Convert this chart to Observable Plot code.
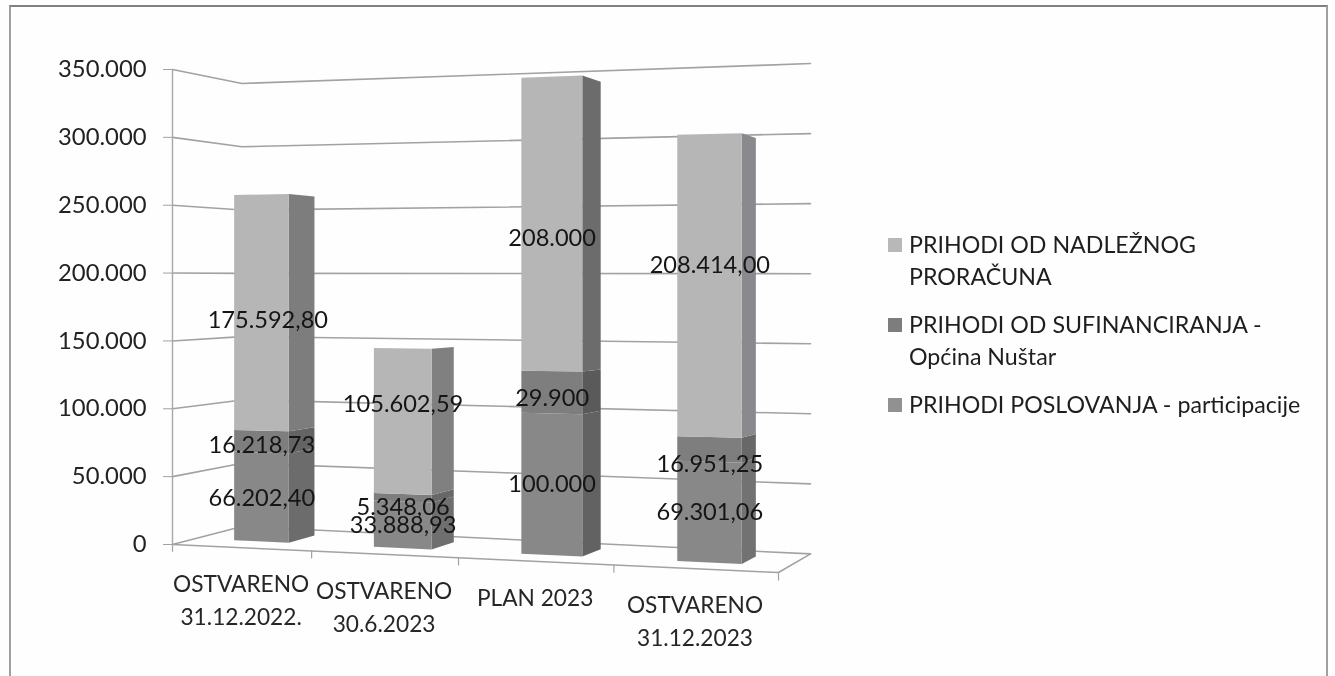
<!DOCTYPE html>
<html>
<head>
<meta charset="utf-8">
<script src="https://cdn.jsdelivr.net/npm/d3@7"></script>
<script src="https://cdn.jsdelivr.net/npm/@observablehq/plot@0.6"></script>
<style>
html,body{margin:0;padding:0;background:#fefefe;width:1335px;height:676px;overflow:hidden;position:relative}
#frame{position:absolute;left:9px;top:5px;width:1319px;height:720px;border:2px solid #a0a0a0;border-top-color:#808080;box-sizing:border-box;pointer-events:none}
#chart svg,#legend{filter:blur(0.4px)}
#legend{position:absolute;left:888px;top:228px;font-family:Lato,sans-serif;font-size:23.2px;line-height:32px;color:#1e1e1e}
#legend div{position:relative;padding-left:21px;margin-bottom:16px}
#legend i{position:absolute;left:0;top:10px;width:14px;height:14px}
</style>
</head>
<body>
<div id="frame"></div>
<div id="chart"></div>
<div id="legend"></div>
<script>
// ---- data ----
const categories = ["OSTVARENO\n31.12.2022.", "OSTVARENO\n30.6.2023", "PLAN 2023", "OSTVARENO\n31.12.2023"];
const participacije = [66202.40, 33888.93, 100000, 69301.06];
const sufinanciranje = [16218.73, 5348.06, 29900, 16951.25];
const proracun = [175592.80, 105602.59, 208000, 208414.00];
const decimals = [2, 2, 0, 2];
const legendNames = ["PRIHODI OD NADLEŽNOG\nPRORAČUNA", "PRIHODI OD SUFINANCIRANJA -\nOpćina Nuštar", "PRIHODI POSLOVANJA - participacije"];
const yTicks = [0, 50000, 100000, 150000, 200000, 250000, 300000, 350000];

// ---- styling ----
const font = "Lato, sans-serif";
const frontColors = ["#888888", "#7e7e7e", "#b6b6b6"];
const sideColors = [["#6c6c6c", "#646464", "#7d7d7d"], ["#6f6f6f", "#686868", "#808080"], ["#626262", "#5a5a5a", "#6c6c6c"], ["#727272", "#686868", "#8a8a8e"]];
const legendColors = ["#b8b8b8", "#7d7d7d", "#919191"];

// ---- 3D camera: (u along categories, d into depth, v value) -> plane of the x/y scales ----
function project(u, d, v) {
  const w = 1 - 0.106 * u + 0.072 * d;
  const wv = 1 - 0.0992 * u + 0.072 * d - 0.004 * u * d;
  return {x: (0.894 * u + 0.123 * d) / w, y: (-18470 * u + 14200 * d - 2400 * u * d) / w + v / wv};
}
const barCentre = i => 0.125 + i * 0.2515;
const halfBar = 0.05, dFront = 0.3, dBack = 0.7;

// ---- geometry built from the data ----
const stacks = [participacije, sufinanciranje, proracun];
const faces = [];
categories.forEach((_, i) => {
  let base = 0;
  stacks.forEach((s, k) => {
    const top = base + s[i], u0 = barCentre(i) - halfBar, u1 = barCentre(i) + halfBar;
    const edge = (id, fill, u, d) => {
      const a = project(u, d, base), b = project(u, d, top);
      faces.push({id, fill, x: a.x, y1: a.y, y2: b.y});
    };
    edge(`s${i}${k}`, sideColors[i][k], u1, dFront);
    edge(`s${i}${k}`, sideColors[i][k], u1, dBack);
    edge(`f${i}${k}`, frontColors[k], u0, dFront);
    edge(`f${i}${k}`, frontColors[k], u1, dFront);
    base = top;
  });
});

const grid = yTicks.flatMap(v => [[0, 0], [0, 1], [1, 1]].map(([u, d]) => ({id: v, ...project(u, d, v)})));
const floor = [[0, 0], [1, 0], [1, 1]].map(([u, d]) => ({id: "floor", ...project(u, d, 0)}));
const wall = [0, 350000].map(v => ({id: "wall", ...project(0, 0, v)}));
const catTicks = d3.range(5).flatMap(i => [0, -5000].map(v => ({id: "t" + i, ...project(i / 4, 0, v)})));

// label offset from the middle of each segment, in px, as seen in the picture
const labelShift = [[[0, 1], [0, 3], [6, 7]], [[0, 0], [0, 9], [0, -17]], [[0, 0], [0, 6], [0, 14]], [[0, 0], [0, 15], [0, -21]]];
const pxPerValue = 475 / 350000;
const pxPerU = 606;
const labels = [];
categories.forEach((_, i) => {
  let base = 0;
  stacks.forEach((s, k) => {
    const fmt = d3.formatLocale({decimal: ",", thousands: ".", grouping: [3], currency: ["", ""]}).format(`,.${decimals[i]}f`);
    const p = project(barCentre(i), dFront, base + s[i] / 2);
    const [dx, dy] = labelShift[i][k];
    labels.push({x: p.x + dx / pxPerU, y: p.y - dy / pxPerValue, text: fmt(s[i])});
    base += s[i];
  });
});
const catLabels = categories.map((text, i) => {
  const p = project((i + 0.5) / 4, 0, 0);
  return {text, x: p.x, y: p.y - 21 / pxPerValue};
});

const thousands = v => d3.format(",")(v).replace(/,/g, ".");

const chart = Plot.plot({
  width: 1335, height: 676,
  marginLeft: 172, marginRight: 557, marginTop: 69, marginBottom: 132,
  style: {background: "transparent", fontFamily: font, overflow: "visible"},
  x: {domain: [0, 1], axis: null},
  y: {domain: [0, 350000]},
  color: {type: "identity"},
  marks: [
    Plot.line(grid, {x: "x", y: "y", z: "id", stroke: "#a2a2a2", strokeWidth: 1.6}),
    Plot.line(wall, {x: "x", y: "y", z: "id", stroke: "#a8a8a8", strokeWidth: 1.4}),
    Plot.line(floor, {x: "x", y: "y", z: "id", stroke: "#a2a2a2", strokeWidth: 1.6}),
    Plot.line(catTicks, {x: "x", y: "y", z: "id", stroke: "#a2a2a2", strokeWidth: 1.2}),
    Plot.axisY({ticks: yTicks, tickFormat: thousands, tickSize: 9, tickPadding: 17, label: null,
      fontSize: 23.8, stroke: "#a2a2a2", fill: "#222"}),
    Plot.areaY(faces, {x: "x", y1: "y1", y2: "y2", z: "id", fill: "fill"}),
    Plot.text(labels, {x: "x", y: "y", text: "text", fontSize: 23.6, fill: "#151515"}),
    Plot.text(catLabels, {x: "x", y: "y", text: "text", fontSize: 22.7, lineHeight: 1.45, lineAnchor: "top", fill: "#262626"})
  ]
});
document.getElementById("chart").appendChild(chart);

const legend = document.getElementById("legend");
legendNames.forEach((name, i) => {
  const row = document.createElement("div");
  row.innerHTML = `<i style="background:${legendColors[i]}"></i>` + name.replace("\n", "<br>");
  legend.appendChild(row);
});
</script>
</body>
</html>
